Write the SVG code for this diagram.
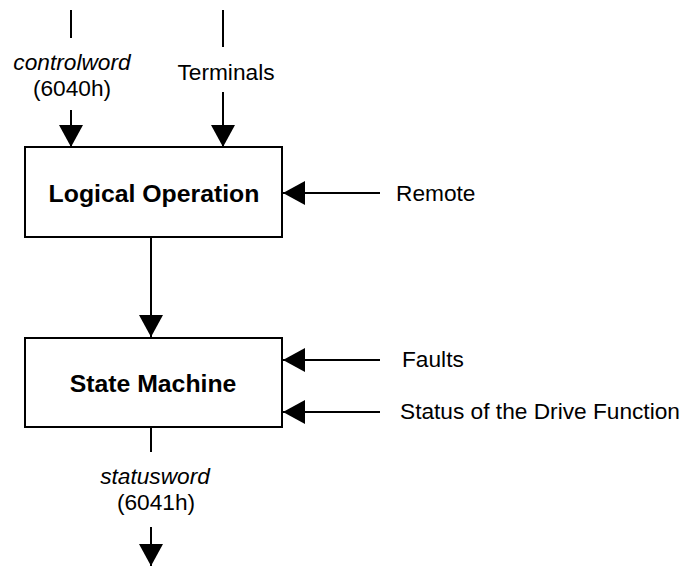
<svg xmlns="http://www.w3.org/2000/svg" width="692" height="566" viewBox="0 0 692 566">
  <style>
    .box { fill: #ffffff; stroke: #000000; stroke-width: 2; }
    .wire { fill: none; stroke: #000000; stroke-width: 2; }
    .lbl { font-family: "Liberation Sans", Arial, sans-serif; font-size: 22.7px; fill: #000000; }
    .it { font-style: italic; }
    .title { font-family: "Liberation Sans", Arial, sans-serif; font-size: 24.8px; font-weight: bold; fill: #000000; text-anchor: middle; }
  </style>
  <defs>
    <marker id="head" markerUnits="userSpaceOnUse" markerWidth="24" markerHeight="26" refX="22" refY="12" orient="auto">
      <path d="M0,0 L22,12 L0,24 Z" fill="#000000"/>
    </marker>
  </defs>
  <rect width="692" height="566" fill="#ffffff"/>

  <g id="connectors">
    <line class="wire" x1="71" y1="10" x2="71" y2="38"/>
    <line class="wire" x1="71" y1="110" x2="71" y2="147" marker-end="url(#head)"/>
    <line class="wire" x1="223" y1="10" x2="223" y2="47"/>
    <line class="wire" x1="223" y1="92" x2="223" y2="147" marker-end="url(#head)"/>
    <line class="wire" x1="380" y1="193" x2="283" y2="193" marker-end="url(#head)"/>
    <line class="wire" x1="151" y1="237" x2="151" y2="337" marker-end="url(#head)"/>
    <line class="wire" x1="380" y1="360" x2="283" y2="360" marker-end="url(#head)"/>
    <line class="wire" x1="380" y1="412" x2="283" y2="412" marker-end="url(#head)"/>
    <line class="wire" x1="151" y1="427" x2="151" y2="452"/>
    <line class="wire" x1="151" y1="527" x2="151" y2="566" marker-end="url(#head)"/>
  </g>

  <g id="logical-operation">
    <rect class="box" x="25" y="147" width="257" height="90"/>
    <text class="title" x="154" y="202">Logical Operation</text>
  </g>

  <g id="state-machine">
    <rect class="box" x="25" y="338" width="257" height="89"/>
    <text class="title" x="153" y="392">State Machine</text>
  </g>

  <g id="labels">
    <text class="lbl it" x="72" y="70" text-anchor="middle">controlword</text>
    <text class="lbl" x="72" y="96" text-anchor="middle">(6040h)</text>
    <text class="lbl" x="226" y="80" text-anchor="middle">Terminals</text>
    <text class="lbl" x="396" y="201">Remote</text>
    <text class="lbl" x="402" y="367">Faults</text>
    <text class="lbl" x="400" y="419">Status of the Drive Function</text>
    <text class="lbl it" x="155" y="484" text-anchor="middle">statusword</text>
    <text class="lbl" x="156" y="510" text-anchor="middle">(6041h)</text>
  </g>
</svg>
